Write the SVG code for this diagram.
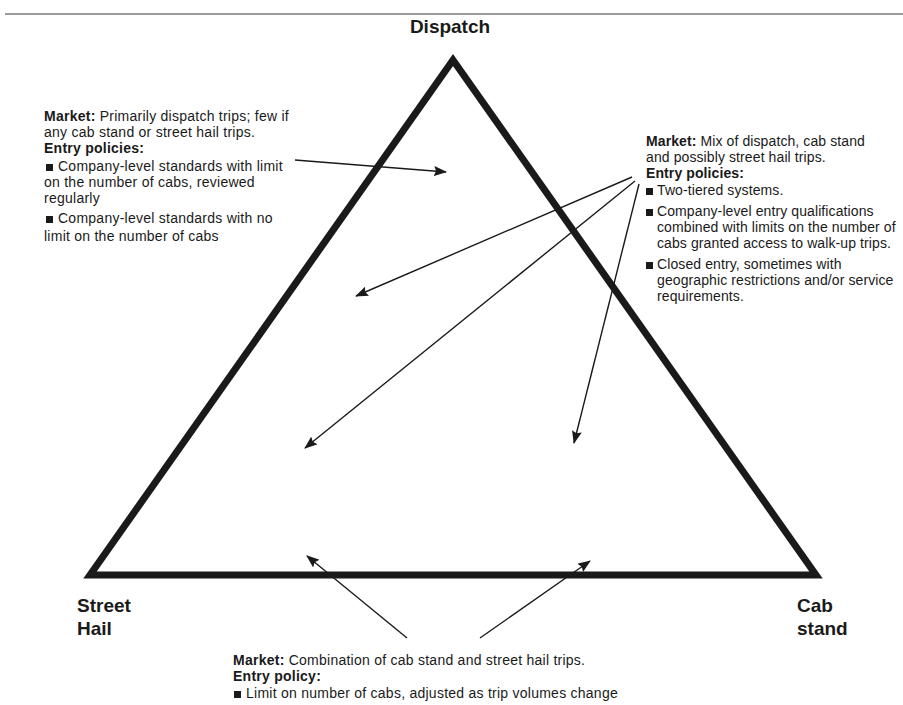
<svg xmlns="http://www.w3.org/2000/svg" width="903" height="705" viewBox="0 0 903 705">
  <style>
    .corner { font-family: "Liberation Sans", Arial, sans-serif; font-size: 19px; font-weight: bold; fill: #1a1a1a; }
    .body { font-family: "Liberation Sans", Arial, sans-serif; font-size: 14px; letter-spacing: 0.25px; fill: #1a1a1a; }
    .tight { letter-spacing: 0.1px; }
    .b { font-weight: bold; }
    .conn { stroke: #1a1a1a; stroke-width: 1.4; fill: none; marker-end: url(#head); }
    .bullet { fill: #1a1a1a; }
  </style>
  <defs>
    <marker id="head" viewBox="0 0 13 10" refX="12" refY="5" markerWidth="13" markerHeight="10" markerUnits="userSpaceOnUse" orient="auto">
      <path d="M0,0 L13,5 L0,10 L2,5 Z" fill="#1a1a1a"/>
    </marker>
  </defs>

  <rect width="903" height="705" fill="#ffffff"/>
  <!-- header rule -->
  <line x1="5" y1="14" x2="903" y2="14" stroke="#9a9a9a" stroke-width="2"/>

  <!-- market triangle -->
  <g id="triangle">
    <path d="M453,60 L90,575 L816,575 Z" fill="none" stroke="#1a1a1a" stroke-width="7" stroke-linejoin="miter" stroke-miterlimit="10"/>
  </g>

  <!-- vertex labels -->
  <g id="dispatch">
    <text class="corner" x="450" y="33" text-anchor="middle">Dispatch</text>
  </g>
  <g id="street-hail">
    <text class="corner" x="77" y="612">Street</text>
    <text class="corner" x="77" y="635">Hail</text>
  </g>
  <g id="cab-stand">
    <text class="corner" x="797" y="612">Cab</text>
    <text class="corner" x="797" y="635">stand</text>
  </g>

  <!-- dispatch-dominated market note -->
  <g id="note-dispatch" class="body">
    <text x="44" y="121"><tspan class="b">Market:</tspan> Primarily dispatch trips; few if</text>
    <text x="44" y="137">any cab stand or street hail trips.</text>
    <text x="44" y="153" class="b">Entry policies:</text>
    <rect class="bullet" x="46" y="164" width="7" height="7"/>
    <text x="58" y="171">Company-level standards with limit</text>
    <text x="44" y="187">on the number of cabs, reviewed</text>
    <text x="44" y="203">regularly</text>
    <rect class="bullet" x="46" y="216" width="7" height="7"/>
    <text x="58" y="223">Company-level standards with no</text>
    <text x="44" y="241">limit on the number of cabs</text>
  </g>

  <!-- mixed market note -->
  <g id="note-mixed" class="body tight">
    <text x="646" y="146"><tspan class="b">Market:</tspan> Mix of dispatch, cab stand</text>
    <text x="646" y="162">and possibly street hail trips.</text>
    <text x="646" y="178" class="b">Entry policies:</text>
    <rect class="bullet" x="646" y="188" width="7" height="7"/>
    <text x="657" y="195">Two-tiered  systems.</text>
    <rect class="bullet" x="646" y="209" width="7" height="7"/>
    <text x="657" y="216">Company-level entry qualifications</text>
    <text x="657" y="232">combined with limits on the number of</text>
    <text x="657" y="248">cabs granted access to walk-up trips.</text>
    <rect class="bullet" x="646" y="262" width="7" height="7"/>
    <text x="657" y="269">Closed entry, sometimes with</text>
    <text x="657" y="285">geographic restrictions and/or service</text>
    <text x="657" y="301">requirements.</text>
  </g>

  <!-- cab stand / street hail market note -->
  <g id="note-walkup" class="body">
    <text x="233" y="665"><tspan class="b">Market:</tspan> Combination of cab stand and street hail trips.</text>
    <text x="233" y="681" class="b">Entry policy:</text>
    <rect class="bullet" x="234" y="691" width="7" height="7"/>
    <text x="246" y="698">Limit on number of cabs, adjusted as trip volumes change</text>
  </g>

  <!-- connectors -->
  <g id="connectors">
    <line class="conn" x1="295" y1="160" x2="446" y2="172"/>
    <line class="conn" x1="632" y1="177" x2="356" y2="296"/>
    <line class="conn" x1="635" y1="181" x2="305" y2="448"/>
    <line class="conn" x1="639" y1="184" x2="574" y2="443"/>
    <line class="conn" x1="407" y1="638" x2="307" y2="556"/>
    <line class="conn" x1="480" y1="638" x2="590" y2="561"/>
  </g>
</svg>
